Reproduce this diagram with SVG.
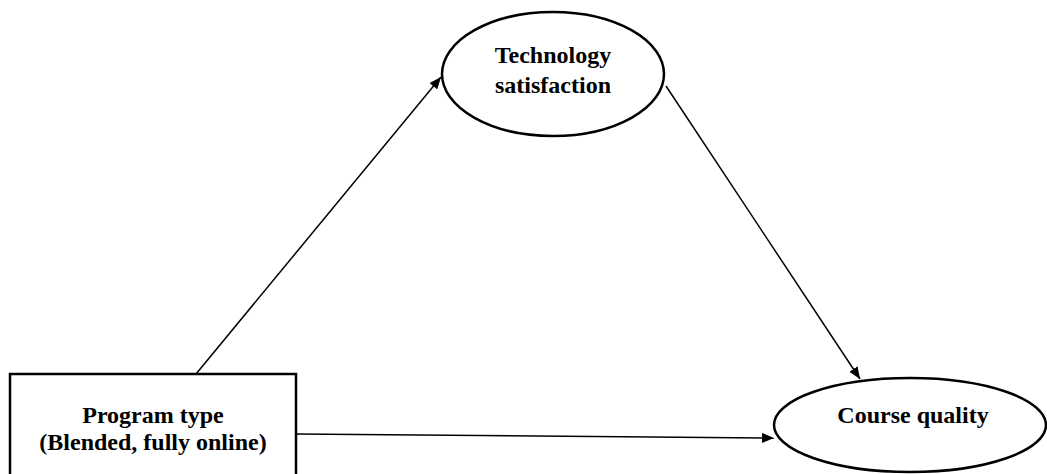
<svg xmlns="http://www.w3.org/2000/svg" width="1047" height="474" viewBox="0 0 1047 474">
<style>
.shape{fill:#fff;stroke:#000;stroke-width:2.5}
.lbl{font-family:"Liberation Serif","Times New Roman",serif;font-weight:bold;font-size:24px;fill:#000;text-anchor:middle}
.edge{stroke:#000;stroke-width:1.5;fill:none;marker-end:url(#arr)}
</style>
<defs>
<marker id="arr" viewBox="0 0 12 10" refX="12" refY="5" markerWidth="12" markerHeight="10" markerUnits="userSpaceOnUse" orient="auto">
<path d="M0,0 L12,5 L0,10 Z" fill="#000"/>
</marker>
</defs>
<rect width="1047" height="474" fill="#fff"/>
<g id="connectors">
<line class="edge" x1="196" y1="374" x2="441" y2="77"/>
<line class="edge" x1="666" y1="86" x2="860" y2="379"/>
<line class="edge" x1="296" y1="434" x2="774" y2="438"/>
</g>
<g id="tech">
<ellipse class="shape" cx="553" cy="74" rx="111" ry="62"/>
<text class="lbl" x="553" y="63">Technology</text>
<text class="lbl" x="553" y="93">satisfaction</text>
</g>
<g id="program">
<rect class="shape" x="10" y="374" width="286" height="110"/>
<text class="lbl" x="153" y="423">Program type</text>
<text class="lbl" x="153" y="450">(Blended, fully online)</text>
</g>
<g id="course">
<ellipse class="shape" cx="910" cy="425" rx="136" ry="47"/>
<text class="lbl" x="913" y="423">Course quality</text>
</g>
</svg>
